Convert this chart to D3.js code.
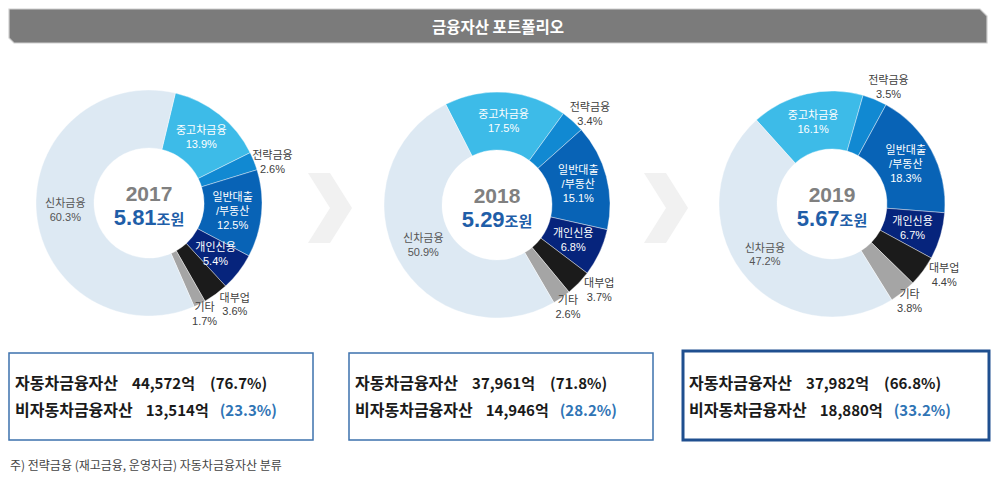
<!DOCTYPE html>
<html>
<head>
<meta charset="utf-8">
<script src="https://cdn.jsdelivr.net/npm/d3@7"></script>
<style>
  html, body { margin: 0; padding: 0; background: #fff; }
  svg { display: block; font-family: "Noto Sans CJK KR", "Noto Sans", sans-serif; }
</style>
</head>
<body>
<svg id="chart" width="1000" height="481"></svg>
<script>
// ---------------- data ----------------
const title = "금융자산 포트폴리오";
const years = ["2017", "2018", "2019"];
const totals = ["5.81", "5.29", "5.67"];           // 조원
const totalUnit = "조원";
const categories = ["중고차금융", "전략금융", "일반대출/부동산", "개인신용", "대부업", "기타", "신차금융"];
const share2017 = [13.9, 2.6, 12.5, 5.4, 3.6, 1.7, 60.3];
const share2018 = [17.5, 3.4, 15.1, 6.8, 3.7, 2.6, 50.9];
const share2019 = [16.1, 3.5, 18.3, 6.7, 4.4, 3.8, 47.2];
const autoLabel = "자동차금융자산";
const nonAutoLabel = "비자동차금융자산";
const autoAmount = [44572, 37961, 37982];         // 억
const autoPct = [76.7, 71.8, 66.8];
const nonAutoAmount = [13514, 14946, 18880];      // 억
const nonAutoPct = [23.3, 28.2, 33.2];
const footnote = "주) 전략금융 (재고금융, 운영자금) 자동차금융자산 분류";

// ---------------- layout / style ----------------
const shares = [share2017, share2018, share2019];
const centers = [[149, 203], [497, 205], [832, 204]];
const rotationDeg = [13.5, -27, -42];   // where 중고차금융 starts (clockwise from 12 o'clock)
const innerR = 55, outerR = 113;
const colors = {
  "중고차금융": "#3dbbe8",
  "전략금융": "#1189d2",
  "일반대출/부동산": "#0863b6",
  "개인신용": "#06247c",
  "대부업": "#1b1b1b",
  "기타": "#a5a5a5",
  "신차금융": "#dde9f3"
};
// outside labels: radius and angular shift (deg) from slice middle
const outsideLabel = { "전략금융": [130, 3.5], "대부업": [133, -4], "기타": [124, 0] };
const labelColor = {
  "중고차금융": "#ffffff", "일반대출/부동산": "#ffffff", "개인신용": "#ffffff",
  "신차금융": "#555555"
};
const boxes = [[9, 353, 304, 87, 1.5, "#3d72ad"], [349, 353, 304, 87, 1.5, "#3d72ad"], [683, 351, 306, 89, 3, "#1f4f8f"]];
const chevronX = [330, 666];
const latinFirst = '"Liberation Sans", "Noto Sans CJK KR", sans-serif';

const svg = d3.select("#chart");

// ---------------- title bar ----------------
const bar = [[9, 9], [980, 9], [987, 16], [987, 43], [14, 43], [9, 38]];
svg.append("polygon")
  .attr("points", bar.map(p => p.join(",")).join(" "))
  .attr("fill", "#7b7b7b")
  .attr("stroke", "#cfcfcf")
  .attr("stroke-width", 1.2);
svg.append("text")
  .attr("x", 498).attr("y", 26)
  .attr("text-anchor", "middle").attr("dominant-baseline", "central")
  .attr("fill", "#ffffff").attr("font-size", 15.5).attr("font-weight", 700)
  .text(title);

// ---------------- chevrons ----------------
chevronX.forEach(cx => {
  const cy = 208, w = 22, h = 35;
  const pts = [[cx - w, cy - h], [cx, cy - h], [cx + w, cy], [cx, cy + h], [cx - w, cy + h], [cx, cy]];
  svg.append("polygon")
    .attr("points", pts.map(p => p.join(",")).join(" "))
    .attr("fill", "#f1f1f1");
});

// ---------------- donuts ----------------
const arc = d3.arc().innerRadius(innerR).outerRadius(outerR);
const toRad = d => d * Math.PI / 180;

years.forEach((yr, i) => {
  const start = toRad(rotationDeg[i]);
  const pie = d3.pie().sort(null).value(d => d.v)
    .startAngle(start).endAngle(start + 2 * Math.PI);
  const arcs = pie(categories.map((c, k) => ({ c, v: shares[i][k] })));
  const g = svg.append("g").attr("transform", `translate(${centers[i][0]},${centers[i][1]})`);

  g.selectAll("path.slice").data(arcs).enter().append("path")
    .attr("class", "slice")
    .attr("d", arc)
    .attr("fill", d => colors[d.data.c])
    .attr("stroke", "#ffffff").attr("stroke-width", 0.4);

  // slice labels
  arcs.forEach(d => {
    const cat = d.data.c;
    let pos, fill;
    if (outsideLabel[cat] !== undefined) {
      const [r, shift] = outsideLabel[cat];
      const a = (d.startAngle + d.endAngle) / 2 + toRad(shift);
      pos = [r * Math.sin(a), -r * Math.cos(a)];
      fill = "#404040";
    } else {
      pos = arc.centroid(d);
      fill = labelColor[cat];
    }
    const names = cat.includes("/") ? [cat.split("/")[0], "/" + cat.split("/")[1]] : [cat];
    const lines = names.concat([d.data.v.toFixed(1) + "%"]);
    const lh = 13.8;
    lines.forEach((ln, j) => {
      g.append("text")
        .attr("text-anchor", "middle")
        .attr("font-family", latinFirst)
        .attr("font-size", 11)
        .attr("fill", fill)
        .attr("x", pos[0])
        .attr("y", pos[1] + (j - (lines.length - 1) / 2) * lh)
        .attr("dy", "0.36em")
        .text(ln);
    });
  });

  // center text
  g.append("text")
    .attr("text-anchor", "middle").attr("y", -2)
    .attr("font-family", latinFirst)
    .attr("font-size", 21).attr("font-weight", 700).attr("fill", "#808080")
    .text(yr);
  const vt = g.append("text")
    .attr("text-anchor", "middle").attr("y", 22)
    .attr("font-family", latinFirst)
    .attr("font-weight", 700).attr("fill", "#1f5ea8");
  vt.append("tspan").attr("font-size", 22).text(totals[i]);
  vt.append("tspan").attr("font-size", 15).text(totalUnit);
});

// ---------------- summary boxes ----------------
const fmt = d3.format(",");
boxes.forEach((b, i) => {
  const [x, y, w, h, sw, col] = b;
  svg.append("rect")
    .attr("x", x).attr("y", y).attr("width", w).attr("height", h)
    .attr("fill", "#ffffff").attr("stroke", col).attr("stroke-width", sw);
  const tx = x + 6;
  const t1 = svg.append("text").attr("x", tx).attr("y", 389)
    .attr("font-size", 15).attr("font-weight", 700).attr("fill", "#1a1a1a");
  t1.append("tspan").attr("font-size", 16).text(autoLabel);
  t1.append("tspan").attr("dx", 14).text(fmt(autoAmount[i]) + "억");
  t1.append("tspan").attr("dx", 15).text("(" + autoPct[i].toFixed(1) + "%)");
  const t2 = svg.append("text").attr("x", tx).attr("y", 416)
    .attr("font-size", 15).attr("font-weight", 700).attr("fill", "#1a1a1a");
  t2.append("tspan").attr("font-size", 16).text(nonAutoLabel);
  t2.append("tspan").attr("dx", 13).text(fmt(nonAutoAmount[i]) + "억");
  t2.append("tspan").attr("dx", 11).attr("fill", "#2f74b5").text("(" + nonAutoPct[i].toFixed(1) + "%)");
});

// ---------------- footnote ----------------
svg.append("text")
  .attr("x", 10).attr("y", 470)
  .attr("font-size", 12).attr("fill", "#444444")
  .text(footnote);
</script>
</body>
</html>
